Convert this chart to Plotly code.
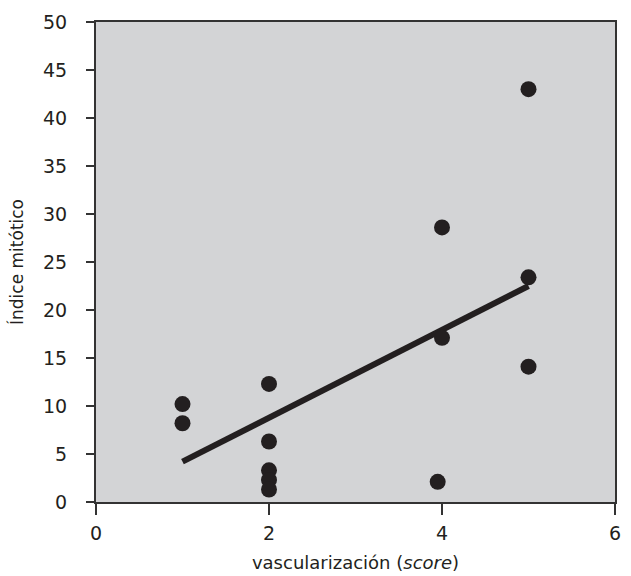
import plotly.graph_objects as go

# Data
vasc_score = [1, 1, 2, 2, 2, 2, 2, 3.95, 4, 4, 5, 5, 5]
mitotic_index = [10.2, 8.2, 12.3, 6.3, 3.3, 2.3, 1.3, 2.1, 28.6, 17.1, 43.0, 23.4, 14.1]

trend_x = [1, 5]
trend_y = [4.2, 22.5]

x_ticks = [0, 2, 4, 6]
y_ticks = [0, 5, 10, 15, 20, 25, 30, 35, 40, 45, 50]

FONT = "DejaVu Sans"
TXT = "#231f20"

fig = go.Figure()
fig.add_trace(go.Scatter(
    x=trend_x, y=trend_y, mode="lines",
    line=dict(color=TXT, width=6), showlegend=False, hoverinfo="skip"))
fig.add_trace(go.Scatter(
    x=vasc_score, y=mitotic_index, mode="markers",
    marker=dict(color=TXT, size=16, line=dict(width=0)), showlegend=False))

fig.update_layout(
    width=631, height=576,
    margin=dict(l=96, r=16, t=22, b=74),
    paper_bgcolor="white",
    plot_bgcolor="#d3d4d6",
    font=dict(family=FONT, color=TXT, size=17),
    xaxis=dict(
        range=[0, 6], tickvals=x_ticks, ticks="outside", ticklen=11,
        tickwidth=2, tickcolor="#333", showline=True, linecolor="#333",
        linewidth=2, mirror=True, showgrid=False, zeroline=False,
        tickfont=dict(size=19, family=FONT, color=TXT),
        ticklabelstandoff=2,
        title=dict(text="vascularización (<i>score</i>)",
                   font=dict(size=18, family=FONT, color=TXT), standoff=14),
        automargin=False,
    ),
    yaxis=dict(
        range=[0, 50], tickvals=y_ticks, ticks="outside", ticklen=8,
        tickwidth=2, tickcolor="#333", showline=True, linecolor="#333",
        linewidth=2, mirror=True, showgrid=False, zeroline=False,
        tickfont=dict(size=19, family=FONT, color=TXT),
        ticklabelstandoff=15,
        title=dict(text="Índice mitótico",
                   font=dict(size=17, family=FONT, color=TXT), standoff=15),
        automargin=False,
    ),
)

fig.write_html("out.html", config={"displayModeBar": False},
               post_script="document.body.style.margin='0';")
